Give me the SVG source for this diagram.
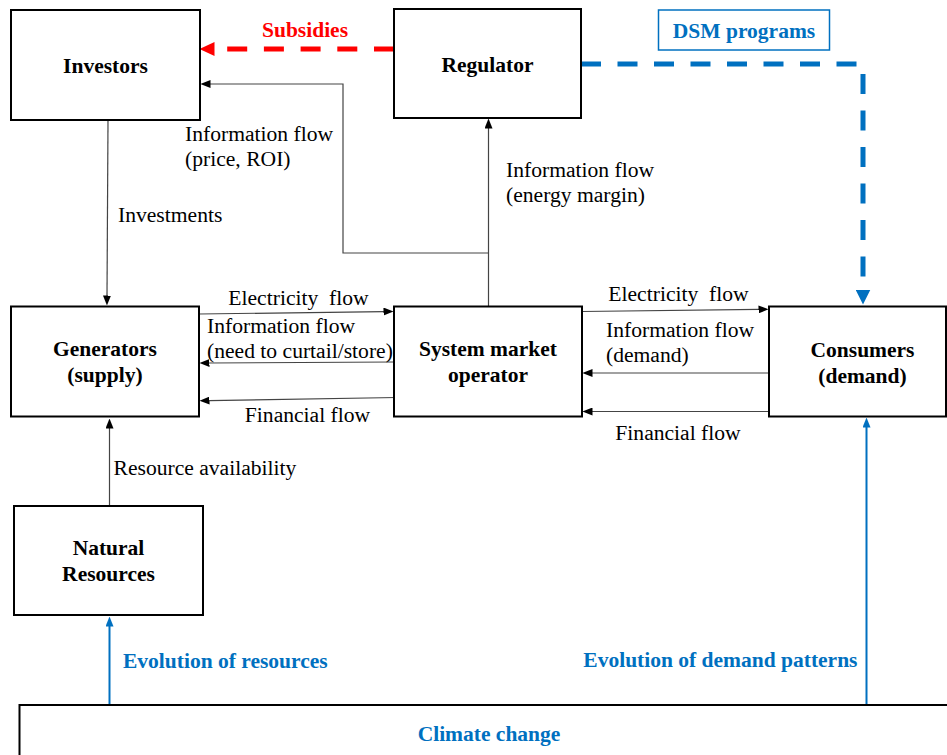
<svg xmlns="http://www.w3.org/2000/svg" width="947" height="755" viewBox="0 0 947 755">
<style>
.box{fill:#fff;stroke:#000;stroke-width:2}
.t{font-family:"Liberation Serif","Times New Roman",serif;font-size:21.6px;fill:#000}
.b{font-family:"Liberation Serif","Times New Roman",serif;font-size:21.5px;font-weight:bold;fill:#000}
.bb{font-family:"Liberation Serif","Times New Roman",serif;font-size:21.5px;font-weight:bold;fill:#0070C0}
.c{text-anchor:middle}
.ln{fill:none;stroke:#444;stroke-width:1.2}
.bl{fill:none;stroke:#0070C0;stroke-width:2}
</style>
<defs>
<marker id="ak" markerUnits="userSpaceOnUse" viewBox="0 0 10 8" refX="0.5" refY="4" markerWidth="10" markerHeight="8" orient="auto"><path d="M0,0 L10,4 L0,8 z" fill="#000"/></marker>
<marker id="ab" markerUnits="userSpaceOnUse" viewBox="0 0 10 8" refX="0.5" refY="4" markerWidth="10" markerHeight="8" orient="auto"><path d="M0,0 L10,4 L0,8 z" fill="#0070C0"/></marker>
<marker id="ar" markerUnits="userSpaceOnUse" viewBox="0 0 15 14" refX="0.5" refY="7" markerWidth="15" markerHeight="14" orient="auto"><path d="M0,0 L15,7 L0,14 z" fill="#FF0000"/></marker>
<marker id="ad" markerUnits="userSpaceOnUse" viewBox="0 0 15 15" refX="0.5" refY="7.5" markerWidth="15" markerHeight="15" orient="auto"><path d="M0,0 L15,7.5 L0,15 z" fill="#0070C0"/></marker>
</defs>

<g id="connectors">
<path class="ln" d="M108,121 L107,296" marker-end="url(#ak)"/>
<path class="ln" d="M488.5,306 V128" marker-end="url(#ak)"/>
<path class="ln" d="M488.5,253 H343 V84 H210" marker-end="url(#ak)"/>
<path class="ln" d="M199,314 L384,311.6" marker-end="url(#ak)"/>
<path class="ln" d="M394,362 L209,363" marker-end="url(#ak)"/>
<path class="ln" d="M397,397.5 L209,400.6" marker-end="url(#ak)"/>
<path class="ln" d="M582,311.5 L759,309.4" marker-end="url(#ak)"/>
<path class="ln" d="M769,373 H592" marker-end="url(#ak)"/>
<path class="ln" d="M769,411.5 H592" marker-end="url(#ak)"/>
<path class="ln" d="M109.5,505 V428" marker-end="url(#ak)"/>
<path class="bl" d="M109.5,705 V626" marker-end="url(#ab)"/>
<path class="bl" d="M866.5,705 V427" marker-end="url(#ab)"/>
<path d="M394,49 H214" fill="none" stroke="#FF0000" stroke-width="5" stroke-dasharray="20 16.7" marker-end="url(#ar)"/>
<path d="M581,64 H863 V290" fill="none" stroke="#0070C0" stroke-width="5" stroke-dasharray="20 16.5" marker-end="url(#ad)"/>
</g>

<g id="labels">
<text class="b c" x="305" y="37" style="fill:#FF0000">Subsidies</text>
<text class="t" x="185" y="141">Information flow</text>
<text class="t" x="185" y="166">(price, ROI)</text>
<text class="t" x="506" y="177">Information flow</text>
<text class="t" x="506" y="202">(energy margin)</text>
<text class="t" x="118" y="222">Investments</text>
<text class="t c" x="298.5" y="305" xml:space="preserve">Electricity  flow</text>
<text class="t" x="207" y="333">Information flow</text>
<text class="t" x="207" y="358">(need to curtail/store)</text>
<text class="t c" x="307.5" y="422">Financial flow</text>
<text class="t c" x="678.5" y="301" xml:space="preserve">Electricity  flow</text>
<text class="t" x="606" y="337">Information flow</text>
<text class="t" x="606" y="362">(demand)</text>
<text class="t c" x="678" y="440">Financial flow</text>
<text class="t" x="113.5" y="475">Resource availability</text>
<text class="bb" x="123" y="668">Evolution of resources</text>
<text class="bb" x="857.5" y="667" text-anchor="end">Evolution of demand patterns</text>
</g>

<g id="investors">
<rect class="box" x="11" y="10" width="189" height="110"/>
<text class="b c" x="105.5" y="73">Investors</text>
</g>
<g id="regulator">
<rect class="box" x="394" y="9" width="187" height="109"/>
<text class="b c" x="487.5" y="72">Regulator</text>
</g>
<g id="dsm">
<rect x="658.5" y="10" width="171" height="40" fill="#fff" stroke="#0070C0" stroke-width="1.5"/>
<text class="bb c" x="744" y="38">DSM programs</text>
</g>
<g id="generators">
<rect class="box" x="11" y="306.5" width="188" height="110"/>
<text class="b c" x="105" y="356">Generators</text>
<text class="b c" x="105" y="382">(supply)</text>
</g>
<g id="smo">
<rect class="box" x="394" y="306.5" width="188" height="110"/>
<text class="b c" x="488" y="356">System market</text>
<text class="b c" x="488" y="382">operator</text>
</g>
<g id="consumers">
<rect class="box" x="769" y="306.5" width="177" height="110"/>
<text class="b c" x="862.5" y="357">Consumers</text>
<text class="b c" x="862.5" y="383">(demand)</text>
</g>
<g id="natural">
<rect class="box" x="14" y="506" width="189" height="109"/>
<text class="b c" x="108.5" y="555">Natural</text>
<text class="b c" x="108.5" y="581">Resources</text>
</g>
<g id="climate">
<rect class="box" x="19.5" y="705" width="940" height="70"/>
<text class="bb c" x="489" y="741">Climate change</text>
</g>
</svg>
